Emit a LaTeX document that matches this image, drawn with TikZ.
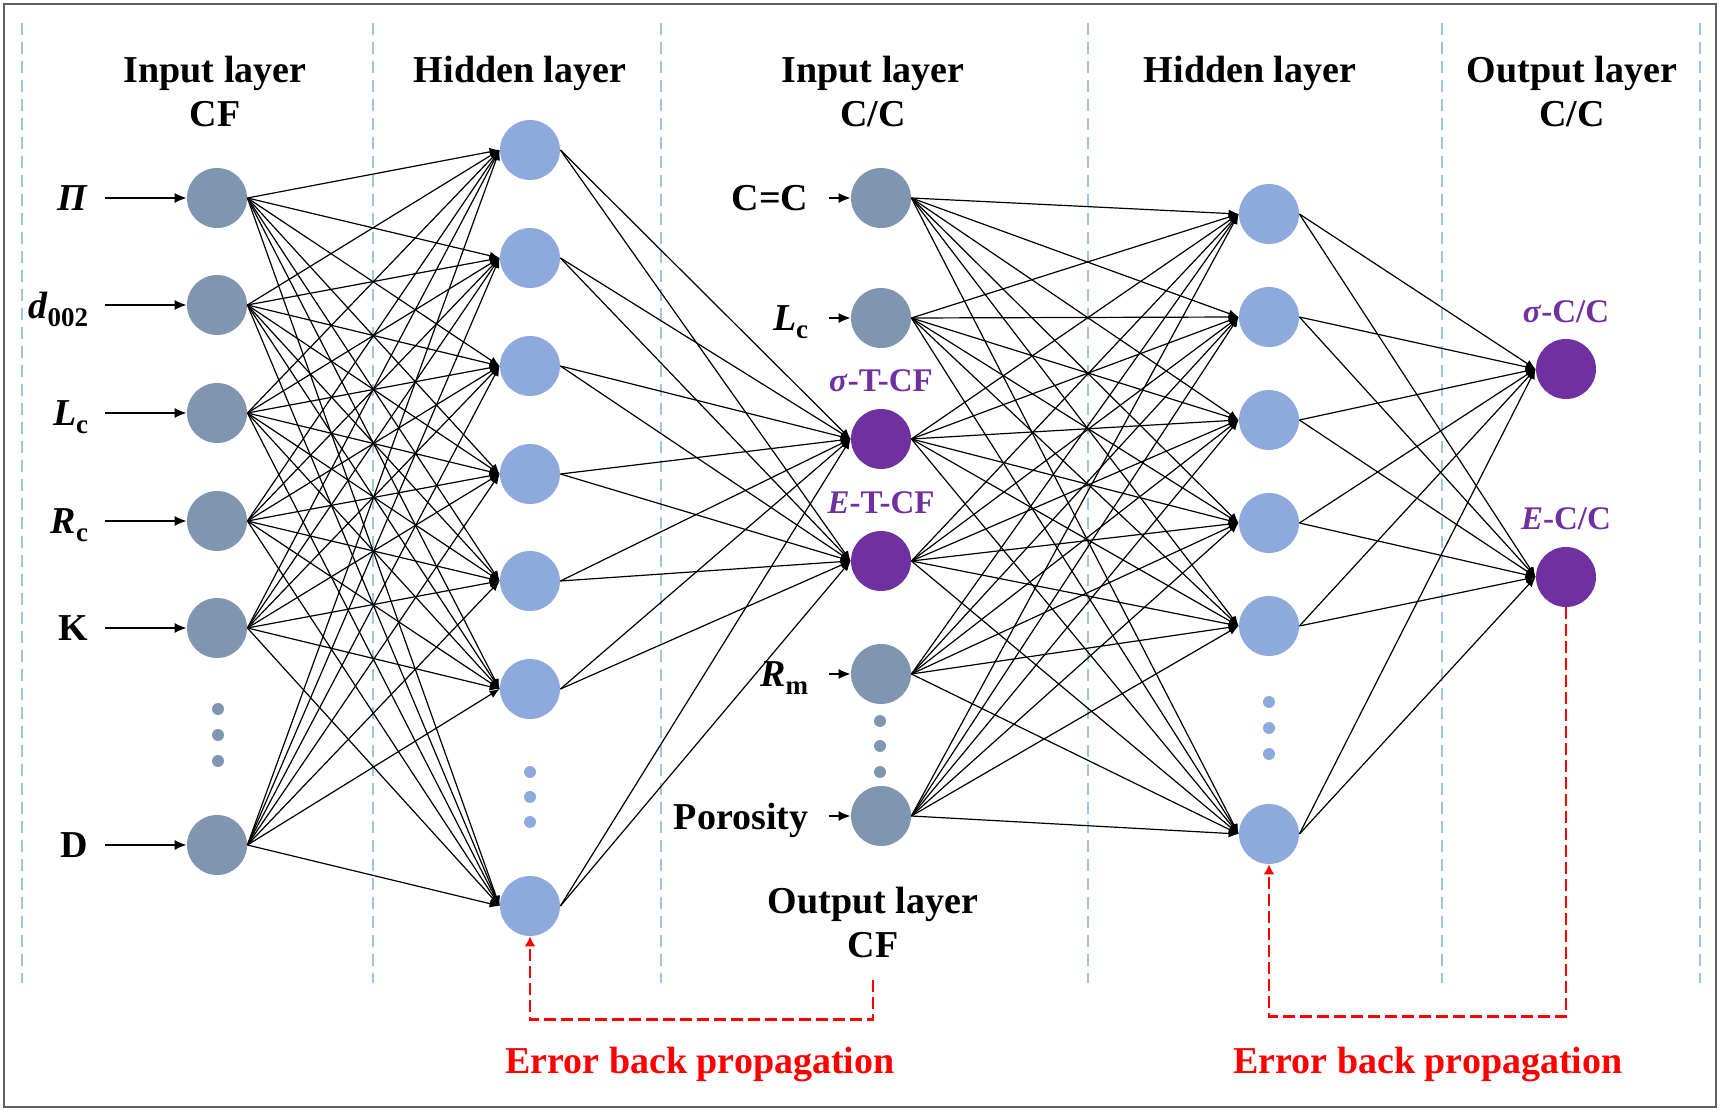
\documentclass[tikz,border=0pt]{standalone}
\usepackage{fontspec}
\setmainfont{Liberation Serif}
\usetikzlibrary{arrows.meta, positioning}
\definecolor{incolor}{RGB}{128,149,176}
\definecolor{hidcolor}{RGB}{142,170,220}
\definecolor{outpurple}{RGB}{112,48,160}
\definecolor{sepblue}{RGB}{157,195,230}
\definecolor{framegray}{RGB}{96,96,96}
\newcommand{\lowtxt}[1]{\raisebox{-4pt}[0pt][0pt]{\fontsize{13.5}{14}\selectfont #1}}

\begin{document}
\begin{tikzpicture}[x=0.5pt, y=-0.5pt,
    unit/.style={circle, minimum size=30pt, inner sep=0pt},
    innode/.style={unit, fill=incolor},
    hidnode/.style={unit, fill=hidcolor},
    outnode/.style={unit, fill=outpurple},
    link/.style={-{Latex[length=5pt, width=4pt]}, line width=0.6pt},
    inarrow/.style={-{Latex[length=6pt, width=5pt]}, line width=0.7pt},
    inlabel/.style={inner sep=0pt, text depth=0pt, font=\fontsize{19}{22}\selectfont\bfseries},
    heading/.style={inner sep=0pt, anchor=north, align=center, font=\fontsize{19}{22}\selectfont\bfseries},
    plabel/.style={inner sep=0pt, text=outpurple, font=\fontsize{16.5}{18}\selectfont\bfseries},
    layersep/.style={sepblue, line width=1.1pt, dash pattern=on 6pt off 3.5pt},
    backprop/.style={red, line width=1.1pt, dash pattern=on 6pt off 2.5pt, -{Latex[length=5pt, width=5.5pt]}},
    errtext/.style={heading, text=red}
]
    \useasboundingbox (0,0) rectangle (1721,1112);
    \draw[framegray, line width=1pt] (4,4) rectangle (1716,1107);

    % layer separators
    \foreach \x in {22,373,661,1088,1442,1700}
        \draw[layersep] (\x,23) -- (\x,983);

    % headings
    \node[heading] (h1) at (215,56) {Input layer\\CF};
    \node[heading] (h2) at (520,56) {Hidden layer};
    \node[heading] (h3) at (873,56) {Input layer\\C/C};
    \node[heading] (h4) at (1250,56) {Hidden layer};
    \node[heading] (h5) at (1572,56) {Output layer\\C/C};
    \node[heading] (ocf) at (873,887) {Output layer\\CF};

    % CF network
    \foreach \i/\y in {1/198,2/305,3/413,4/521,5/628,6/845}
        \node[innode] (a\i) at (217,\y) {};
    \foreach \i/\y in {1/150,2/258,3/366,4/474,5/581,6/689,7/906}
        \node[hidnode] (b\i) at (530,\y) {};
    \foreach \y in {709,735,761} \fill[incolor] (218,\y) circle[radius=3pt];
    \foreach \y in {772,797,822} \fill[hidcolor] (530,\y) circle[radius=3pt];

    % C/C network
    \node[innode] (c1) at (881,198) {};
    \node[innode] (c2) at (881,318) {};
    \node[outnode] (c3) at (881,439) {};
    \node[outnode] (c4) at (881,561) {};
    \node[innode] (c5) at (881,674) {};
    \node[innode] (c6) at (881,816) {};
    \foreach \y in {721,746,772} \fill[incolor] (880,\y) circle[radius=3pt];
    \foreach \i/\y in {1/214,2/317,3/420,4/523,5/626,6/834}
        \node[hidnode] (d\i) at (1269,\y) {};
    \foreach \y in {702,728,754} \fill[hidcolor] (1269,\y) circle[radius=3pt];
    \node[outnode] (e1) at (1566,369) {};
    \node[outnode] (e2) at (1566,577) {};

    % input labels
    \node[inlabel, left=49pt of a1] (l1) {\textit{Π}};
    \node[inlabel, left=49pt of a2] (l2) {\textit{d}\lowtxt{002}};
    \node[inlabel, left=49pt of a3] (l3) {\textit{L}\lowtxt{c}};
    \node[inlabel, left=49pt of a4] (l4) {\textit{R}\lowtxt{c}};
    \node[inlabel, left=49pt of a5] (l5) {K};
    \node[inlabel, left=49pt of a6] (l6) {D};
    \foreach \i in {1,...,6}
        \draw[inarrow, shorten <=8pt] (l\i.east) -- (a\i.west);
    \node[inlabel, left=21pt of c1] (m1) {C=C};
    \node[inlabel, left=21pt of c2] (m2) {\textit{L}\lowtxt{c}};
    \node[inlabel, left=21pt of c5] (m5) {\textit{R}\lowtxt{m}};
    \node[inlabel, left=21pt of c6] (m6) {Porosity};
    \foreach \i in {1,2,5,6}
        \draw[inarrow, shorten <=10pt] (m\i.east) -- (c\i.west);

    % output labels
    \node[plabel, above=8pt of c3] (c3lbl) {\textit{σ}-T-CF};
    \node[plabel, above=8pt of c4] (c4lbl) {\textit{E}-T-CF};
    \node[plabel, above=7.5pt of e1] (e1lbl) {\textit{σ}-C/C};
    \node[plabel, above=8pt of e2] (e2lbl) {\textit{E}-C/C};

    % connections
    \foreach \i in {1,...,6}
        \foreach \j in {1,...,7}
            \draw[link] (a\i.east) -- (b\j.west);
    \foreach \i in {1,...,7}
        \foreach \j in {3,4}
            \draw[link] (b\i.east) -- (c\j.west);
    \foreach \i in {1,...,6}
        \foreach \j in {1,...,6}
            \draw[link] (c\i.east) -- (d\j.west);
    \foreach \i in {1,...,6}
        \foreach \j in {1,2}
            \draw[link] (d\i.east) -- (e\j.west);

    % error back propagation
    \draw[backprop, shorten <=10.5pt] (ocf.south) -- ++(0,61) -| (b7.south);
    \draw[backprop] (e2.south) -- ++(0,409) -| (d6.south);
    \node[errtext] (err1) at (700,1047) {Error back propagation};
    \node[errtext] (err2) at (1428,1047) {Error back propagation};
\end{tikzpicture}
\end{document}
